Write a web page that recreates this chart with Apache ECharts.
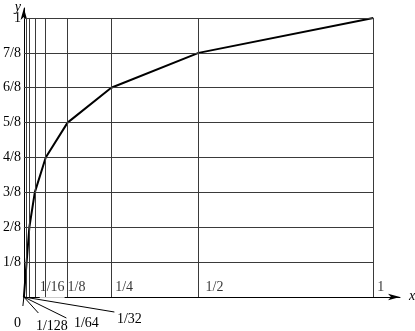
<!DOCTYPE html>
<html>
<head>
<meta charset="utf-8">
<script src="https://cdn.jsdelivr.net/npm/echarts@6/dist/echarts.min.js"></script>
<style>html,body{margin:0;padding:0;background:#fff}#c{width:415px;height:331px}</style>
</head>
<body>
<div id="c"></div>
<script>
// ---- data ----
const curveX = [0, 1/128, 1/64, 1/32, 1/16, 1/8, 1/4, 1/2, 1];
const curveY = [0, 1/8, 2/8, 3/8, 4/8, 5/8, 6/8, 7/8, 1];
const gridX = [1/128, 1/64, 1/32, 1/16, 1/8, 1/4, 1/2, 1];
const gridY = [1/8, 2/8, 3/8, 4/8, 5/8, 6/8, 7/8, 1];
const yTickLabels = ['1/8', '2/8', '3/8', '4/8', '5/8', '6/8', '7/8', '1'];
const upperXValues = [1/16, 1/8, 1/4, 1/2, 1];
const upperXLabels = ['1/16', '1/8', '1/4', '1/2', '1'];
const lowerXLabels = ['0', '1/128', '1/64', '1/32'];

// ---- style / layout ----
const FONT = "'Liberation Serif','Times New Roman',serif";
const FS = 14;
const upperDx = [-6, 0, 4, 7, 4];
const lowerLayout = [ // label left/center, leader end offsets from origin
  {lx: -10, ly: 26, ex: -1, ey: 9},
  {lx: 12, ly: 29, ex: 14.5, ey: 16},
  {lx: 50, ly: 26, ex: 42.5, ey: 21},
  {lx: 93, ly: 22, ex: 90.5, ey: 15}
];

const chart = echarts.init(document.getElementById('c'), null, {renderer: 'canvas'});
const gridLineData = [];
gridY.forEach(y => gridLineData.push([{coord: [0, y]}, {coord: [1, y]}]));
gridX.forEach(x => gridLineData.push([{coord: [x, 0]}, {coord: [x, 1]}]));

const option = {
  animation: false,
  backgroundColor: '#fff',
  grid: {left: 20, right: 15, top: 8, bottom: 34},
  xAxis: {
    type: 'value', min: 0, max: 1.0765,
    axisLine: {show: true, lineStyle: {color: '#000', width: 1}, symbol: ['none', 'arrow'], symbolSize: [5, 12]},
    axisTick: {show: false}, axisLabel: {show: false}, splitLine: {show: false}
  },
  yAxis: {
    type: 'value', min: 0, max: 1.0358, interval: 0.125,
    axisLine: {show: true, lineStyle: {color: '#000', width: 1}, symbol: ['none', 'arrow'], symbolSize: [5, 12]},
    axisTick: {show: false}, splitLine: {show: false},
    axisLabel: {
      color: '#000', fontFamily: FONT, fontSize: FS, margin: 3,
      formatter: v => {
        const k = Math.round(v * 8);
        if (Math.abs(v * 8 - k) > 1e-6 || k < 1 || k > 8) return '';
        return yTickLabels[k - 1];
      }
    }
  },
  series: [
    {
      type: 'line', data: [[0, 0]], symbol: 'none', z: 1, silent: true,
      lineStyle: {width: 0},
      markLine: {
        silent: true, symbol: 'none', animation: false,
        label: {show: false},
        lineStyle: {color: '#3a3a3a', width: 1, type: 'solid'},
        data: gridLineData
      }
    },
    {
      type: 'scatter', z: 3, symbolSize: 0, silent: true,
      data: upperXValues.map((x, i) => ({
        value: [x, 0],
        label: {
          show: true, formatter: upperXLabels[i], position: [upperDx[i], -10],
          align: 'left', verticalAlign: 'middle', color: '#000', fontFamily: FONT, fontSize: FS,
          backgroundColor: i === 0 ? '#fff' : 'transparent', padding: i === 0 ? [6, 0, 9, 0] : 0
        }
      }))
    },
    {
      type: 'line', z: 4, symbol: 'none', silent: true,
      data: curveX.map((x, i) => [x, curveY[i]]),
      lineStyle: {color: '#000', width: 2}
    }
  ]
};
chart.setOption(option);

const o = chart.convertToPixel({gridIndex: 0}, [0, 0]);
const xEnd = chart.convertToPixel({gridIndex: 0}, [1.0765, 1.0358]);
const g = [];
lowerXLabels.forEach((t, i) => {
  const L = lowerLayout[i];
  g.push({type: 'line', silent: true, shape: {x1: o[0], y1: o[1], x2: o[0] + L.ex, y2: o[1] + L.ey},
    style: {stroke: '#000', lineWidth: 1}, z: 10});
  g.push({type: 'text', silent: true, x: o[0] + L.lx, y: o[1] + L.ly,
    style: {text: t, fill: '#000', font: FS + 'px ' + FONT, textAlign: 'left', textVerticalAlign: 'middle'}, z: 10});
});
g.push({type: 'text', silent: true, x: xEnd[0] + 9, y: o[1] - 1,
  style: {text: 'x', fill: '#000', font: 'italic ' + FS + 'px ' + FONT, textAlign: 'left', textVerticalAlign: 'middle'}});
g.push({type: 'text', silent: true, x: o[0] - 3, y: xEnd[1] - 1,
  style: {text: 'y', fill: '#000', font: 'italic ' + FS + 'px ' + FONT, textAlign: 'right', textVerticalAlign: 'middle'}});
chart.setOption({graphic: g});
</script>
</body>
</html>
